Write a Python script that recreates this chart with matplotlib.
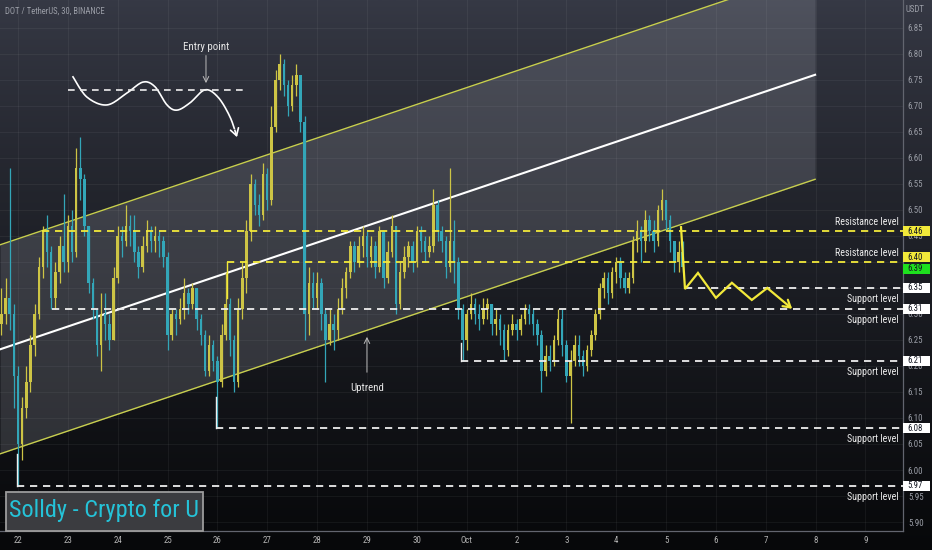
import numpy as np
import matplotlib
matplotlib.use("Agg")
import matplotlib.pyplot as plt
from matplotlib import font_manager, transforms
from matplotlib.patches import Rectangle

# 2-hour candles, day 0 = Sep 22 00:00, first candle opens Sep 21 16:00
first_day = -1 / 3
bar_step = 1 / 12
first_open = 6.28
closes = [6.30, 6.33, 6.30, 6.18, 6.05, 6.12, 6.17, 6.24, 6.30, 6.39,
          6.46, 6.42, 6.33, 6.38, 6.43, 6.40, 6.47, 6.42, 6.58, 6.56,
          6.47, 6.36, 6.31, 6.24, 6.30, 6.28, 6.25, 6.37, 6.45, 6.44,
          6.47, 6.46, 6.42, 6.39, 6.43, 6.46, 6.44, 6.45, 6.44, 6.41,
          6.26, 6.30, 6.29, 6.31, 6.34, 6.32, 6.35, 6.29, 6.26, 6.19,
          6.24, 6.21, 6.17, 6.26, 6.32, 6.25, 6.17, 6.31, 6.37, 6.46,
          6.55, 6.51, 6.49, 6.57, 6.52, 6.66, 6.75, 6.78, 6.74, 6.70,
          6.74, 6.76, 6.67, 6.30, 6.36, 6.33, 6.36, 6.30, 6.25, 6.28,
          6.27, 6.31, 6.35, 6.38, 6.43, 6.40, 6.43, 6.45, 6.41, 6.43,
          6.39, 6.46, 6.37, 6.42, 6.47, 6.32, 6.38, 6.41, 6.43, 6.40,
          6.46, 6.44, 6.42, 6.43, 6.51, 6.46, 6.44, 6.39, 6.44, 6.40,
          6.31, 6.25, 6.30, 6.32, 6.30, 6.29, 6.31, 6.32, 6.28, 6.29,
          6.27, 6.23, 6.27, 6.28, 6.27, 6.29, 6.31, 6.30, 6.28, 6.26,
          6.19, 6.22, 6.21, 6.25, 6.29, 6.24, 6.18, 6.21, 6.24, 6.22,
          6.20, 6.23, 6.26, 6.30, 6.35, 6.37, 6.34, 6.38, 6.40, 6.37,
          6.35, 6.37, 6.44, 6.46, 6.44, 6.48, 6.46, 6.44, 6.50, 6.52,
          6.48, 6.44, 6.40, 6.42, 6.39]
highs = [6.35, 6.37, 6.58, 6.32, 6.20, 6.14, 6.20, 6.26, 6.32, 6.41,
         6.47, 6.49, 6.43, 6.40, 6.45, 6.53, 6.49, 6.50, 6.62, 6.64,
         6.57, 6.47, 6.37, 6.31, 6.34, 6.34, 6.30, 6.39, 6.47, 6.47,
         6.51, 6.49, 6.49, 6.43, 6.45, 6.48, 6.47, 6.47, 6.46, 6.45,
         6.42, 6.31, 6.31, 6.33, 6.37, 6.35, 6.36, 6.35, 6.30, 6.27,
         6.26, 6.25, 6.22, 6.28, 6.38, 6.33, 6.26, 6.33, 6.40, 6.48,
         6.57, 6.56, 6.53, 6.59, 6.58, 6.70, 6.77, 6.80, 6.79, 6.75,
         6.76, 6.78, 6.76, 6.68, 6.39, 6.38, 6.38, 6.37, 6.31, 6.31,
         6.30, 6.33, 6.37, 6.39, 6.44, 6.44, 6.45, 6.47, 6.46, 6.45,
         6.44, 6.47, 6.46, 6.44, 6.49, 6.47, 6.40, 6.43, 6.44, 6.44,
         6.47, 6.47, 6.45, 6.45, 6.54, 6.52, 6.47, 6.45, 6.58, 6.48,
         6.41, 6.32, 6.31, 6.34, 6.33, 6.32, 6.33, 6.33, 6.32, 6.31,
         6.30, 6.28, 6.28, 6.30, 6.29, 6.30, 6.32, 6.32, 6.31, 6.29,
         6.27, 6.24, 6.24, 6.26, 6.31, 6.31, 6.25, 6.23, 6.26, 6.26,
         6.23, 6.24, 6.27, 6.31, 6.36, 6.38, 6.38, 6.39, 6.41, 6.41,
         6.38, 6.38, 6.45, 6.48, 6.47, 6.50, 6.49, 6.48, 6.51, 6.54,
         6.52, 6.49, 6.44, 6.44, 6.44]
lows = [6.26, 6.28, 6.27, 6.12, 5.97, 6.02, 6.10, 6.15, 6.22, 6.29,
        6.37, 6.39, 6.31, 6.31, 6.36, 6.38, 6.38, 6.40, 6.41, 6.52,
        6.45, 6.34, 6.29, 6.22, 6.19, 6.25, 6.23, 6.25, 6.36, 6.41,
        6.43, 6.43, 6.40, 6.37, 6.38, 6.42, 6.42, 6.42, 6.41, 6.39,
        6.23, 6.25, 6.26, 6.28, 6.29, 6.30, 6.31, 6.27, 6.24, 6.18,
        6.18, 6.19, 6.08, 6.16, 6.25, 6.22, 6.15, 6.16, 6.29, 6.34,
        6.44, 6.49, 6.47, 6.48, 6.50, 6.51, 6.65, 6.73, 6.72, 6.68,
        6.69, 6.72, 6.65, 6.25, 6.26, 6.31, 6.31, 6.27, 6.17, 6.24,
        6.23, 6.25, 6.30, 6.33, 6.37, 6.38, 6.39, 6.41, 6.39, 6.39,
        6.37, 6.38, 6.35, 6.36, 6.41, 6.30, 6.31, 6.37, 6.39, 6.38,
        6.39, 6.42, 6.40, 6.41, 6.42, 6.44, 6.42, 6.37, 6.38, 6.36,
        6.29, 6.21, 6.23, 6.29, 6.28, 6.27, 6.28, 6.29, 6.26, 6.26,
        6.24, 6.21, 6.22, 6.26, 6.25, 6.26, 6.28, 6.28, 6.26, 6.24,
        6.15, 6.18, 6.19, 6.20, 6.24, 6.22, 6.17, 6.09, 6.20, 6.20,
        6.18, 6.19, 6.22, 6.25, 6.29, 6.33, 6.32, 6.33, 6.36, 6.35,
        6.34, 6.34, 6.36, 6.42, 6.40, 6.42, 6.44, 6.42, 6.43, 6.48,
        6.46, 6.42, 6.38, 6.38, 6.38]
last_price = 6.39

day_ticks = list(range(18))
day_labels = ['22', '23', '24', '25', '26', '27', '28', '29', '30', 'Oct',
              '2', '3', '4', '5', '6', '7', '8', '9']
price_ticks = [5.90, 5.95, 6.00, 6.05, 6.10, 6.15, 6.20, 6.25, 6.30, 6.35,
               6.40, 6.45, 6.50, 6.55, 6.60, 6.65, 6.70, 6.75, 6.80, 6.85]

level_values = [6.46, 6.40, 6.35, 6.31, 6.21, 6.08, 5.97]
level_starts = [0.48, 4.19, 13.38, 0.68, 8.89, 3.97, -0.02]
level_names = ['Resistance level', 'Resistance level', 'Support level', 'Support level',
               'Support level', 'Support level', 'Support level']
level_tick_tops = [None, 6.33, None, None, 6.245, 6.14, 6.03]

channel_days = [-0.361, 15.99]
channel_upper = [6.433, 6.961]
channel_lower = [6.031, 6.559]

zigzag_days = [13.30, 13.38, 13.64, 14.00, 14.32, 14.72, 15.03, 15.53]
zigzag_prices = [6.467, 6.348, 6.379, 6.331, 6.360, 6.327, 6.350, 6.310]

sketch_days = [1.103, 1.384, 1.785, 2.187, 2.508, 2.748, 2.989, 3.190, 3.450, 3.751, 4.012, 4.253, 4.393]
sketch_prices = [6.756, 6.717, 6.702, 6.725, 6.746, 6.737, 6.702, 6.692, 6.706, 6.731, 6.717, 6.679, 6.640]

UP = '#cdc445'
DOWN = '#33a6b8'
YEL = '#f2e93a'
WHITE = '#eeeeee'
AXIS_TXT = '#9a9da6'

# pick a narrow face if one is installed, the chart text is very condensed
font_files = font_manager.fontManager.ttflist
names = {f.name for f in font_files}
FONT = 'DejaVu Sans'
STRETCH = 'normal'
for cand in ['Roboto Condensed', 'Liberation Sans Narrow', 'Open Sans Condensed',
             'DejaVu Sans Condensed', 'Noto Sans Condensed']:
    if cand in names:
        FONT = cand
        break
else:
    narrow = [f for f in font_files if f.stretch in ('condensed', 'semi-condensed', 'extra-condensed')
              or (isinstance(f.stretch, int) and f.stretch < 500)]
    if narrow:
        FONT = narrow[0].name
        STRETCH = 'condensed'
plt.rcParams['font.family'] = [FONT, 'DejaVu Sans']
plt.rcParams['font.stretch'] = STRETCH
k = 1.0 if FONT != 'DejaVu Sans' else 0.85  # size factor for the wide fallback


def smooth(xs, ys, n=12):
    # catmull-rom through the sketch points, only for the hand drawn curve
    p = np.column_stack([xs, ys])
    p = np.vstack([p[0], p, p[-1]])
    out = []
    for i in range(1, len(p) - 2):
        p0, p1, p2, p3 = p[i - 1], p[i], p[i + 1], p[i + 2]
        for t in np.linspace(0, 1, n, endpoint=False):
            out.append(0.5 * ((2 * p1) + (-p0 + p2) * t + (2 * p0 - 5 * p1 + 4 * p2 - p3) * t ** 2
                              + (-p0 + 3 * p1 - 3 * p2 + p3) * t ** 3))
    out.append(p[-2])
    out = np.array(out)
    return out[:, 0], out[:, 1]


fig = plt.figure(figsize=(9.32, 5.5), dpi=100)

# background gradient
bg = fig.add_axes([0, 0, 1, 1], zorder=0)
top = np.array([0x36, 0x39, 0x45]) / 255
bot = np.array([0x07, 0x08, 0x0a]) / 255
t = np.linspace(0, 1, 256)[:, None] ** 0.85
grad = top[None, :] * (1 - t) + bot[None, :] * t
bg.imshow(grad[:, None, :], aspect='auto', extent=[0, 1, 0, 1])
bg.set_axis_off()

ax = fig.add_axes([0, 19 / 550, 903 / 932, 531 / 550], zorder=1)
ax.set_facecolor('none')
ax.set_xlim(-0.361, 17.753)
ax.set_ylim(5.8827, 6.9038)

for d in day_ticks:
    ax.axvline(d, color='white', alpha=0.05, lw=0.8, zorder=1)
for p in price_ticks:
    ax.axhline(p, color='white', alpha=0.05, lw=0.8, zorder=1)

# channel
cd = np.array(channel_days)
cu = np.array(channel_upper)
cl = np.array(channel_lower)
ax.fill_between(cd, cl, cu, color='#b4b7c2', alpha=0.2, lw=0, zorder=2)
ax.plot(cd, cu, color='#c8cf4e', lw=1.0, zorder=3)
ax.plot(cd, cl, color='#c8cf4e', lw=1.0, zorder=3)
ax.plot(cd, (cu + cl) / 2, color='white', lw=1.5, zorder=3)

# candles
opens = [first_open] + closes[:-1]
days = first_day + bar_step * np.arange(len(closes))
o = np.array(opens)
c = np.array(closes)
colors = [UP if cc >= oo else DOWN for oo, cc in zip(o, c)]
ax.vlines(days, lows, highs, colors=colors, lw=0.9, zorder=4)
ax.bar(days, np.maximum(np.abs(c - o), 0.003), bottom=np.minimum(o, c), width=0.05,
       color=colors, lw=0, zorder=4)

# levels
xmax = ax.get_xlim()[1]
blend = transforms.blended_transform_factory(ax.transAxes, ax.transData)
for val, start, name, tick in zip(level_values, level_starts, level_names, level_tick_tops):
    col = YEL if name.startswith('Resistance') else WHITE
    ax.plot([start, xmax], [val, val], color=col, lw=1.3, ls=(0, (4, 3.2)), zorder=5)
    if tick is not None:
        ax.plot([start, start], [val, tick], color=col, lw=1.0, zorder=5)
    off = 0.017 if name.startswith('Resistance') else -0.021
    ax.text(0.9956, val + off, name, transform=blend, ha='right', va='center',
            color='#ececec', fontsize=7.2 * k, zorder=6)

# price boxes on the axis
box_h = 0.0195
boxes = [(6.46, 6.459, YEL), (6.40, 6.409, YEL), (last_price, 6.387, '#1ee01e'),
         (6.35, 6.35, 'white'), (6.31, 6.31, 'white'), (6.21, 6.21, 'white'),
         (6.08, 6.08, 'white'), (5.97, 5.97, 'white')]
for val, ypos, fc in boxes:
    ax.add_patch(Rectangle((1.0005, ypos - box_h / 2), 0.0295, box_h, transform=blend,
                           fc=fc, ec='none', clip_on=False, zorder=7))
    ax.text(1.0050, ypos, f'{val:.2f}', transform=blend, ha='left', va='center',
            color='#131722', fontsize=6.3 * k, clip_on=False, zorder=8)

# projected zigzag
ax.plot(zigzag_days[:-1], zigzag_prices[:-1], color=YEL, lw=1.6, zorder=6,
        solid_joinstyle='miter')
ax.annotate('', xy=(zigzag_days[-1], zigzag_prices[-1]), xytext=(zigzag_days[-2], zigzag_prices[-2]),
            arrowprops=dict(arrowstyle='->,head_length=0.5,head_width=0.3', color=YEL, lw=1.6,
                            shrinkA=0, shrinkB=0), zorder=6)

# entry sketch
sx, sy = smooth(sketch_days, sketch_prices)
ax.plot(sx[:-6], sy[:-6], color='white', lw=1.2, zorder=6)
ax.annotate('', xy=(sx[-1], sy[-1]), xytext=(sx[-6], sy[-6]),
            arrowprops=dict(arrowstyle='->,head_length=0.5,head_width=0.3', color='white', lw=1.2,
                            shrinkA=0, shrinkB=0), zorder=6)
ax.plot([1.003, 4.514], [6.731, 6.731], color=WHITE, lw=1.2, ls=(0, (4, 3.2)), zorder=6)
ax.text(3.771, 6.813, 'Entry point', color='#e6e6e6', fontsize=7.8 * k, ha='center', va='center', zorder=6)
ax.annotate('', xy=(3.771, 6.744), xytext=(3.771, 6.797),
            arrowprops=dict(arrowstyle='->,head_length=0.4,head_width=0.2', color='#bbbbbb', lw=0.7,
                            shrinkA=0, shrinkB=0), zorder=6)
ax.text(7.0, 6.158, 'Uptrend', color='#e6e6e6', fontsize=7.8 * k, ha='center', va='center', zorder=6)
ax.annotate('', xy=(7.0, 6.256), xytext=(7.0, 6.188),
            arrowprops=dict(arrowstyle='->,head_length=0.4,head_width=0.2', color='#bbbbbb', lw=0.7,
                            shrinkA=0, shrinkB=0), zorder=6)

# axes
for s in ['top', 'left']:
    ax.spines[s].set_visible(False)
for s in ['right', 'bottom']:
    ax.spines[s].set_color('#62656f')
    ax.spines[s].set_linewidth(0.9)
ax.yaxis.tick_right()
ax.set_yticks(price_ticks)
# ticks that sit right under a level box are hidden by it on the original
covered = [6.35, 6.40]
ax.set_yticklabels(['' if any(abs(p - q) < 1e-6 for q in covered) else f'{p:.2f}' for p in price_ticks])
ax.set_xticks(day_ticks)
ax.set_xticklabels(day_labels)
ax.tick_params(axis='y', length=0, pad=3.5, labelsize=6.4 * k, labelcolor=AXIS_TXT)
ax.tick_params(axis='x', length=0, pad=3.5, labelsize=6.4 * k, labelcolor='#b4b4b4')

fig.text(5 / 932, 1 - 11 / 550, 'DOT / TetherUS, 30, BINANCE', color=AXIS_TXT, fontsize=6.2 * k,
         ha='left', va='center', zorder=3)
fig.text(906 / 932, 1 - 9 / 550, 'USDT', color=AXIS_TXT, fontsize=6.4 * k, ha='left', va='center', zorder=3)

# watermark
fig.patches.append(Rectangle((6 / 932, 19 / 550), 197 / 932, 39 / 550, transform=fig.transFigure,
                             fc='#3b3c40', ec='#9c9c9c', lw=1.3, zorder=5))
fig.text(104 / 932, 1 - 511 / 550, 'Solldy - Crypto for U', color='#25c3d8',
         fontsize=17.5 if FONT != 'DejaVu Sans' else 13.0,
         ha='center', va='center', zorder=6)

fig.savefig('out.png', dpi=100, facecolor='black')
